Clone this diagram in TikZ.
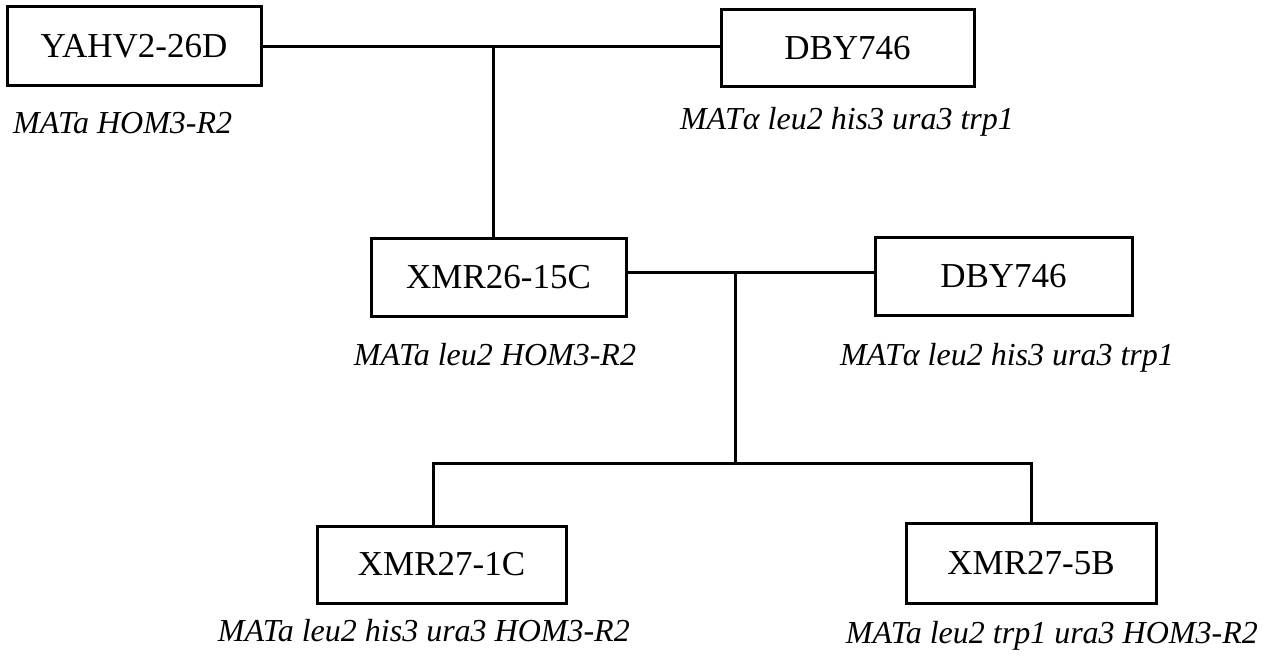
\documentclass[tikz,border=0pt]{standalone}
\usepackage{fontspec}
\setmainfont{Liberation Serif}
\begin{document}
\begin{tikzpicture}[x=1pt,y=-1pt,
  strainbox/.style={draw, line width=3pt, inner sep=0pt, font=\fontsize{35}{40}\selectfont},
  geno/.style={inner sep=0pt, font=\fontsize{32}{36}\selectfont\itshape},
  link/.style={line width=3pt}]
\useasboundingbox (0,0) rectangle (1263,658);
% boxes
\node[strainbox, minimum width=254pt, minimum height=79pt] (yahv) at (134,46.5) {YAHV2-26D};
\node[strainbox, minimum width=253pt, minimum height=77pt] (dbya) at (847.5,48.5) {DBY746};
\node[strainbox, minimum width=255pt, minimum height=78pt] (xmr26) at (498.5,277) {XMR26-15C};
\node[strainbox, minimum width=257pt, minimum height=78pt] (dbyb) at (1003.5,276) {DBY746};
\node[strainbox, minimum width=249pt, minimum height=77pt] (xmr1) at (441.5,564.5) {XMR27-1C};
\node[strainbox, minimum width=250pt, minimum height=80pt] (xmr5) at (1031,563) {XMR27-5B};
% genotypes
\node[geno, anchor=base west] (g1) at (13,133) {MATa HOM3-R2};
\node[geno, anchor=base] (g2) at (847,130) {MATα leu2 his3 ura3 trp1};
\node[geno, anchor=base] (g3) at (495,365) {MATa leu2 HOM3-R2};
\node[geno, anchor=base] (g4) at (1007,365) {MATα leu2 his3 ura3 trp1};
\node[geno, anchor=base east] (g5) at (630,641) {MATa leu2 his3 ura3 HOM3-R2};
\node[geno, anchor=base east] (g6) at (1258,643) {MATa leu2 trp1 ura3 HOM3-R2};
% junction points
\coordinate (j1) at (493,47);
\coordinate (j2) at (735,272);
\coordinate (j3) at (735,463);
\coordinate (jl) at (433,463);
\coordinate (jr) at (1031,463);
% connectors
\draw[link] (yahv.east |- j1) -- (dbya.west |- j1);
\draw[link] (j1) -- (j1 |- xmr26.north);
\draw[link] (xmr26.east |- j2) -- (dbyb.west |- j2);
\draw[link] (j2) -- (j3);
\draw[link, line cap=rect] (jl) -- (jr);
\draw[link] (jl) -- (jl |- xmr1.north);
\draw[link] (jr) -- (jr |- xmr5.north);
\end{tikzpicture}
\end{document}
